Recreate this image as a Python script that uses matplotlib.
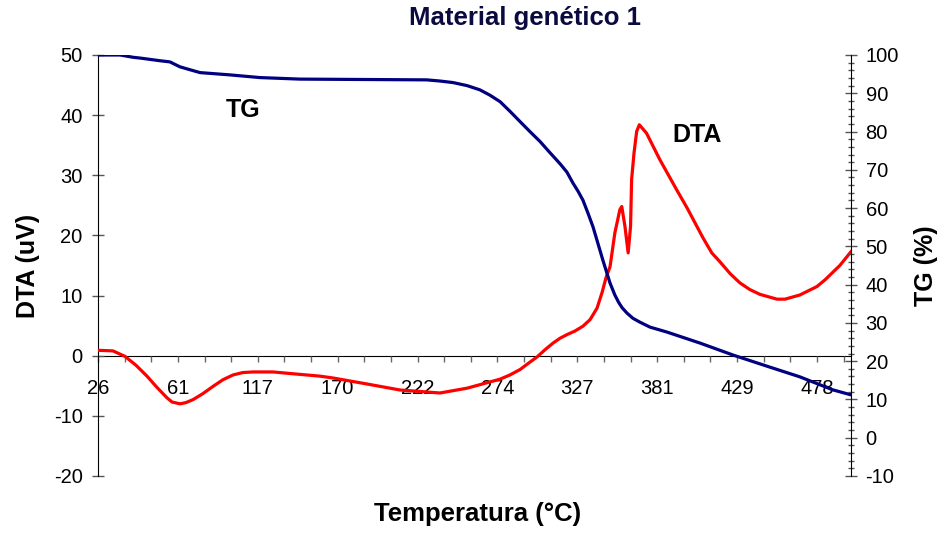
import numpy as np
import matplotlib
matplotlib.use("Agg")
import matplotlib.pyplot as plt
from matplotlib.ticker import MultipleLocator

plt.rcParams["font.family"] = ["Liberation Sans", "DejaVu Sans"]
plt.rcParams["axes.unicode_minus"] = False

# category axis: one tick per step, a temperature label every third step
temp_labels = [26, 61, 117, 170, 222, 274, 327, 381, 429, 478]
label_step = 3
x_end = 28.28

# DTA curve (uV), position along the category axis
dta_x = [0, 0.56, 1.01, 1.43, 1.84, 2.22, 2.59, 2.78, 3.08, 3.30, 3.57, 3.94,
         4.32, 4.69, 5.07, 5.44, 5.82, 6.57, 7.32, 8.34, 8.82, 10.10, 11.34,
         12.84, 13.86, 15.10, 15.47, 15.85, 16.15, 16.49, 16.79, 17.09, 17.35,
         17.61, 17.91, 18.21, 18.48, 18.74, 18.93, 19.08, 19.23, 19.41, 19.60,
         19.67, 19.79, 19.91, 20.00, 20.04, 20.13, 20.23, 20.33, 20.60, 21.10,
         21.73, 22.12, 22.72, 23.05, 23.36, 23.75, 24.11, 24.48, 24.86, 25.50,
         25.80, 26.36, 27.00, 27.30, 27.86, 28.28]
dta_y = [0.9, 0.8, -0.1, -1.6, -3.4, -5.3, -7.0, -7.7, -8.0, -7.8, -7.3, -6.3,
         -5.1, -4.0, -3.2, -2.8, -2.7, -2.7, -3.0, -3.4, -3.7, -4.7, -5.7,
         -6.2, -5.4, -3.9, -3.2, -2.3, -1.3, -0.2, 1.0, 2.1, 2.9,
         3.5, 4.1, 4.9, 6.0, 7.9, 10.5, 13.0, 14.8, 20.4, 24.3,
         24.8, 21.5, 17.1, 21.5, 29.3, 33.7, 37.3, 38.4, 37.0, 32.6,
         27.6, 24.6, 19.6, 17.1, 15.6, 13.6, 12.1, 11.0, 10.2, 9.4,
         9.4, 10.1, 11.5, 12.6, 15.0, 17.3]

# TG curve (%)
tg_x = [0, 0.83, 1.32, 1.58, 2.33, 2.70, 3.08, 3.83, 4.96, 6.08, 6.83, 7.58,
        12.35, 12.84, 13.33, 13.86, 14.34, 14.72, 15.10, 15.47, 15.85, 16.22,
        16.60, 16.97, 17.35, 17.61, 17.84, 18.02, 18.21, 18.40, 18.59, 18.85,
        18.96, 19.23, 19.41, 19.55, 19.68, 19.86, 20.09, 20.35, 20.73, 21.37,
        22.62, 23.85, 25.12, 26.36, 27.60, 28.28]
tg_y = [100, 100, 99.4, 99.2, 98.5, 98.2, 96.9, 95.4, 94.8, 94.1, 93.9, 93.7,
        93.5, 93.2, 92.8, 92.0, 90.9, 89.5, 87.8, 85.3, 82.6, 80.0,
        77.4, 74.5, 71.6, 69.4, 66.5, 64.5, 62.1, 58.7, 55.1, 49.0,
        46.4, 40.4, 37.3, 35.4, 34.0, 32.6, 31.2, 30.2, 28.9, 27.6,
        24.7, 21.6, 18.7, 15.9, 12.5, 11.2]

fig = plt.figure(figsize=(9.46, 5.35), dpi=100)
ax = fig.add_axes([0.1036, 0.1103, 0.796, 0.7869])
ax2 = ax.twinx()

ax.plot(dta_x, dta_y, color="#ff0000", lw=2.3, solid_joinstyle="round", zorder=3)
ax2.plot(tg_x, tg_y, color="#000080", lw=2.3, solid_joinstyle="round", zorder=3)

ax.set_xlim(0, x_end)
ax.set_ylim(-20, 50)
ax2.set_ylim(-10, 100)

for s in ["top", "right"]:
    ax.spines[s].set_visible(False)
for s in ["top", "left", "bottom"]:
    ax2.spines[s].set_visible(False)
ax.spines["bottom"].set_position(("data", 0))
ax.spines["bottom"].set_zorder(1)

n_ticks = int(x_end) + 1
ax.set_xticks(np.arange(n_ticks))
xlabels = [""] * n_ticks
for i, t in enumerate(temp_labels):
    xlabels[i * label_step] = str(t)
ax.set_xticklabels(xlabels)
ax.tick_params(axis="x", direction="out", length=4.5, width=1,
               color="#666666", labelsize=14.5, pad=12)

ax.yaxis.set_major_locator(MultipleLocator(10))
ax.tick_params(axis="y", direction="inout", length=8, width=1,
               color="#555555", labelsize=14.5, pad=7)

ax2.yaxis.set_major_locator(MultipleLocator(10))
ax2.yaxis.set_minor_locator(MultipleLocator(2))
ax2.tick_params(axis="y", which="major", direction="inout", length=9,
                width=1, color="#555555", labelsize=14.5, pad=6)
ax2.tick_params(axis="y", which="minor", direction="inout", length=5,
                width=1, color="#555555")

ax.set_ylabel("DTA (uV)", fontsize=18, fontweight="bold", labelpad=10)
ax2.set_ylabel("TG (%)", fontsize=18, fontweight="bold", labelpad=11)
fig.text(0.505, 0.04, "Temperatura (°C)", ha="center", va="center",
         fontsize=18.5, fontweight="bold")
fig.text(0.555, 0.966, "Material genético 1", ha="center", va="center",
         fontsize=18.5, fontweight="bold", color="#0a0a40")

ax.text(5.44, 40.9, "TG", ha="center", va="center", fontsize=18, fontweight="bold")
ax.text(22.49, 36.7, "DTA", ha="center", va="center", fontsize=18, fontweight="bold")

fig.savefig("out.png", dpi=100)
